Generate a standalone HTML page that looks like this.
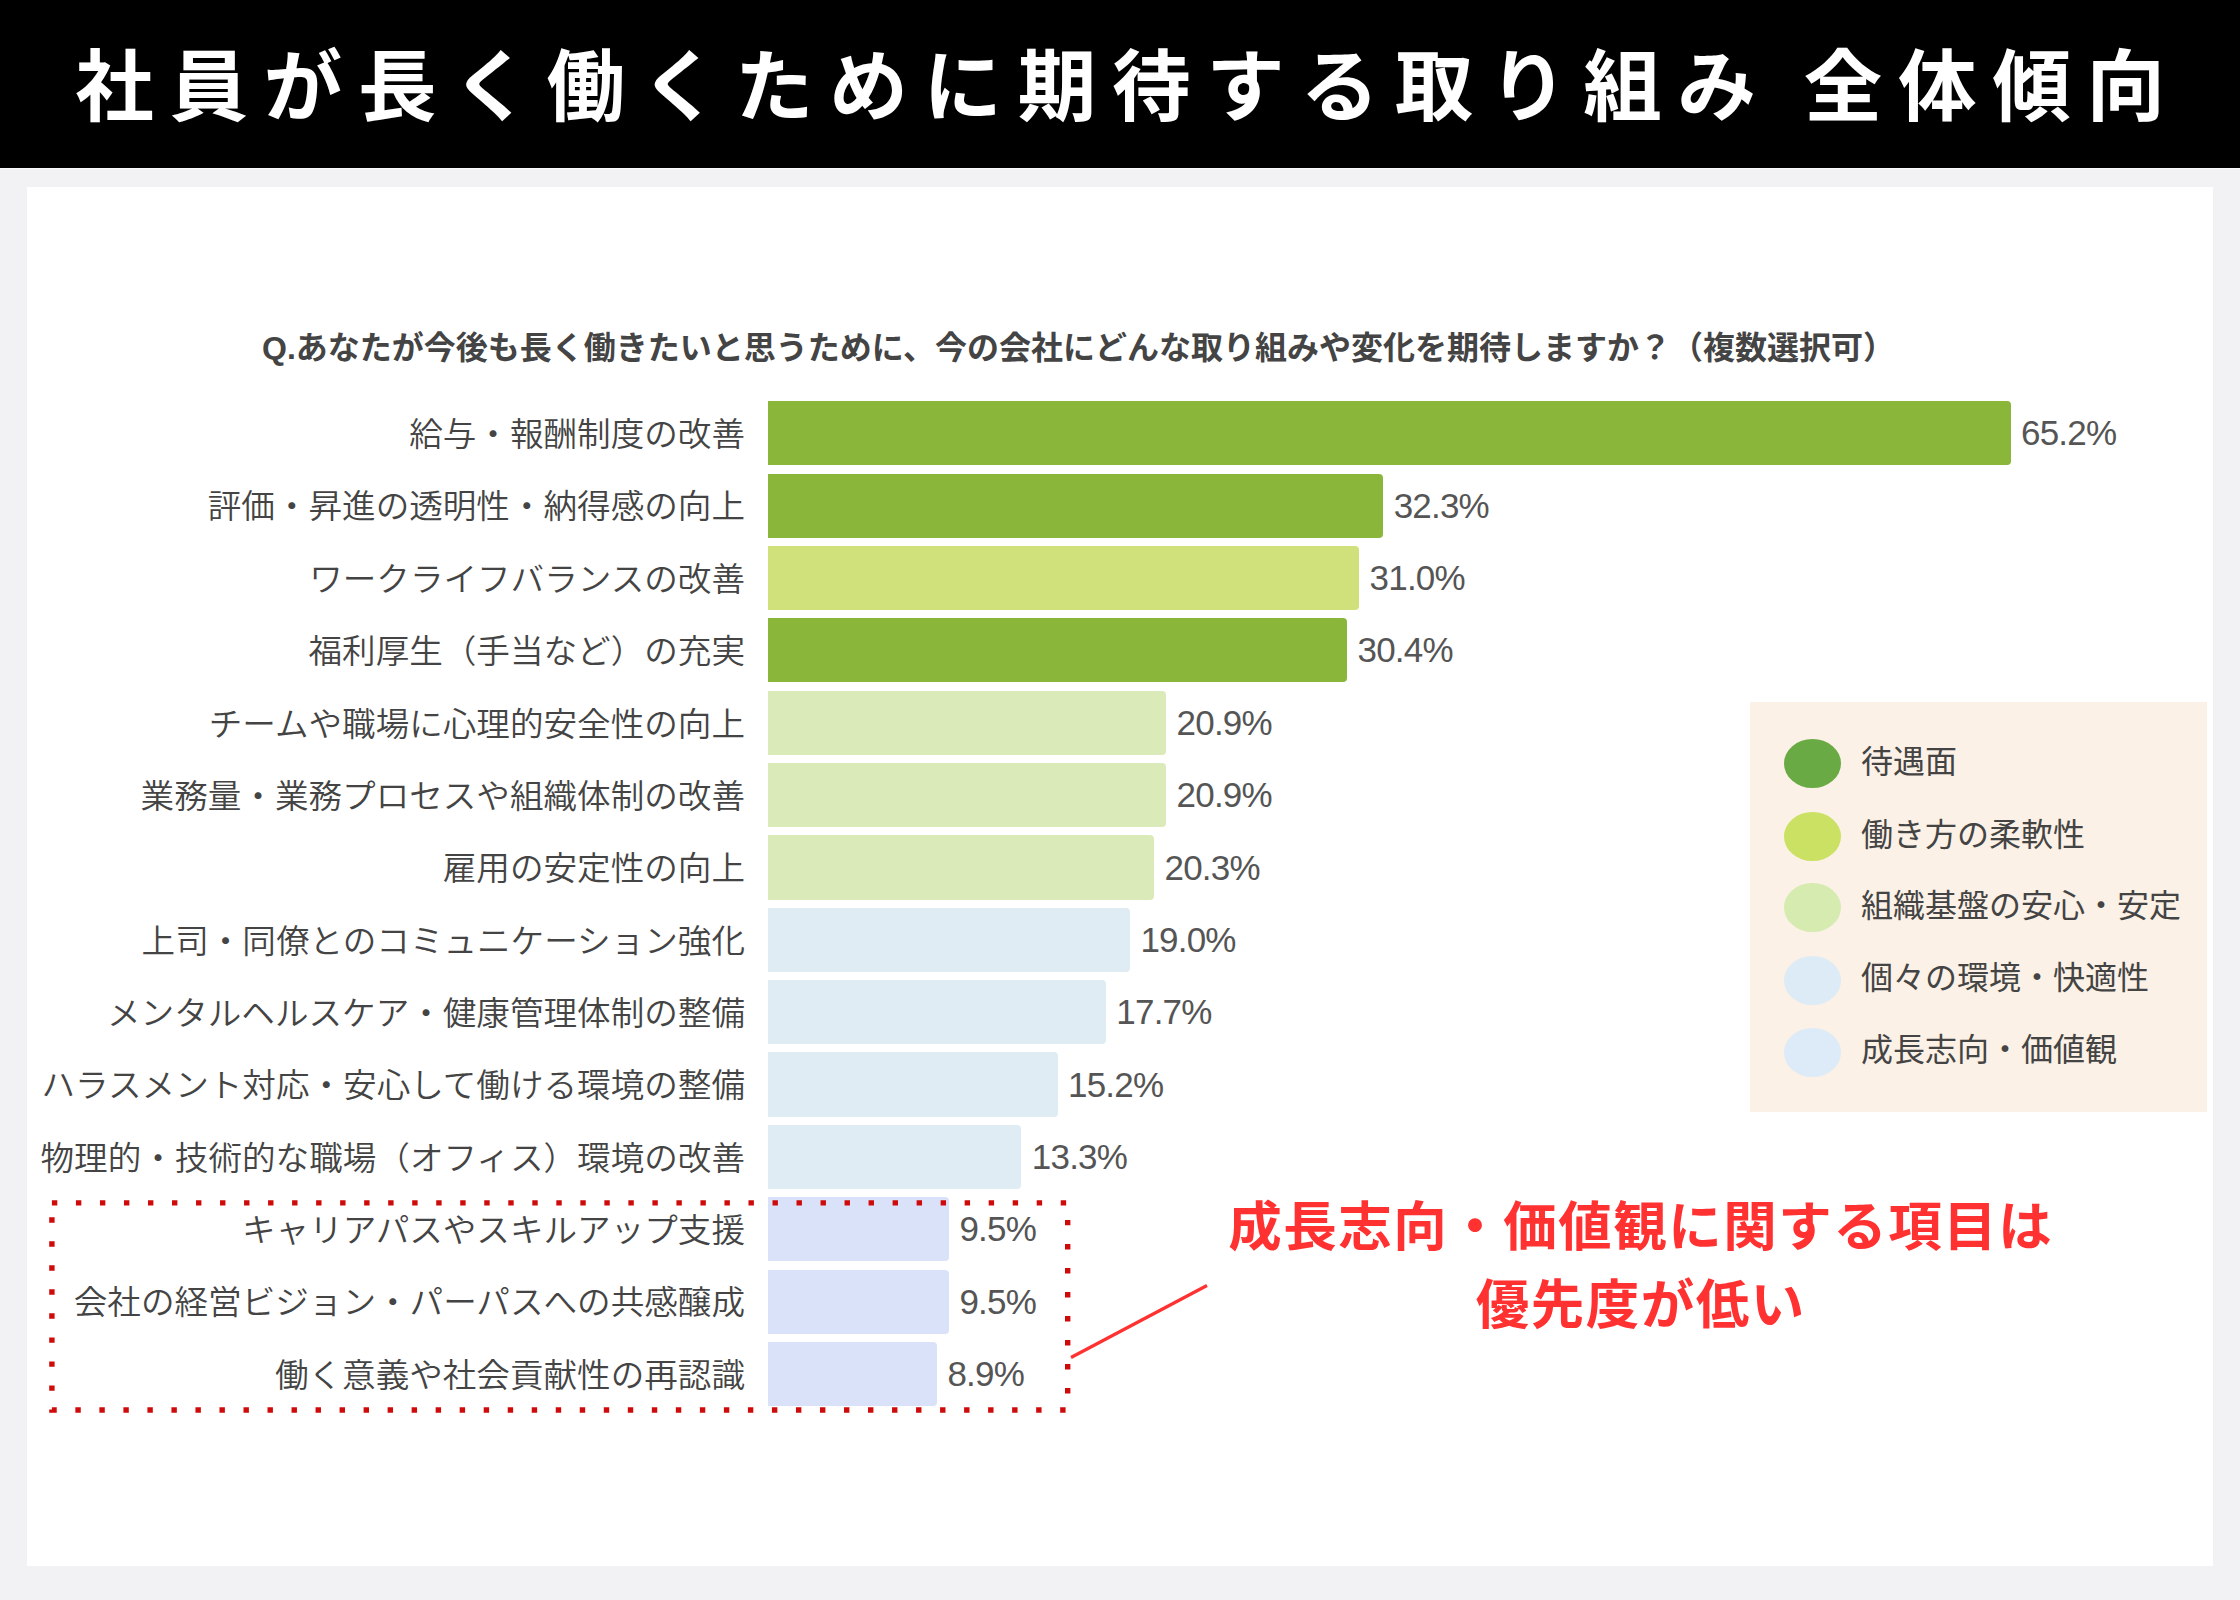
<!DOCTYPE html>
<html lang="ja">
<head>
<meta charset="utf-8">
<title>社員が長く働くために期待する取り組み 全体傾向</title>
<style>
*{margin:0;padding:0;box-sizing:border-box}
html,body{width:2240px;height:1600px;overflow:hidden;background:#f2f2f5}
body{position:relative;font-family:"Liberation Sans","Noto Sans CJK JP",sans-serif;color:#444}
.hdr{position:absolute;left:0;top:0;width:2240px;height:168px;background:#000}
.hdr h1{position:absolute;left:0;top:0;width:2240px;height:168px;line-height:168px;padding-top:4px;padding-left:16px;text-align:center;color:#fff;font-weight:700;font-size:78.5px;letter-spacing:15.75px;word-spacing:-5.5px;white-space:pre}
.hl{position:absolute;left:0;top:168px;width:2240px;height:1px;background:#fafafc}
.card{position:absolute;left:27px;top:187px;width:2186px;height:1379px;background:#fff}
.q{position:absolute;left:0;top:326px;width:2157px;text-align:center;font-weight:700;font-size:32px;line-height:44px;color:#444;white-space:nowrap}
.lb{position:absolute;right:1495px;height:64.3px;line-height:64.3px;font-size:33.6px;font-weight:350;white-space:nowrap;color:#444;text-align:right;transform:scaleY(0.968);transform-origin:center}
.bar{position:absolute;left:768px;height:64.3px;border-radius:0 4px 4px 0}
.v{position:absolute;height:64.3px;line-height:64.3px;font-size:35px;letter-spacing:-0.8px;white-space:nowrap;color:#555}
.c1{background:#8ab73a}.c2{background:#d0e17b}.c3{background:#dbeab9}.c4{background:#e0ecf3}.c5{background:#dae2f9}
.lg{position:absolute;left:1750px;top:702px;width:457px;height:410px;background:#fbf1e6}
.dot{position:absolute;left:34px;width:57px;height:49px;border-radius:50%}
.lt{position:absolute;left:111px;font-size:32px;line-height:48px;height:48px;white-space:nowrap;color:#444}
.note{position:absolute;left:1140px;top:1188.5px;width:1001.5px;text-align:center;color:#ff3131;font-weight:700;font-size:53.5px;letter-spacing:1.5px;line-height:78px;white-space:nowrap}
svg.ov{position:absolute;left:0;top:0;width:2240px;height:1600px;pointer-events:none}
</style>
</head>
<body>
<div class="hdr"><h1>社員が長く働くために期待する取り組み 全体傾向</h1></div>
<div class="hl"></div>
<div class="card"></div>
<div class="q">Q.あなたが今後も長く働きたいと思うために、今の会社にどんな取り組みや変化を期待しますか？（複数選択可）</div>
<div class="lb" style="top:403.0px">給与・報酬制度の改善</div>
<div class="bar c1" style="top:401.1px;width:1242.5px"></div>
<div class="v" style="top:401.3px;left:2021.0px">65.2%</div>
<div class="lb" style="top:475.4px">評価・昇進の透明性・納得感の向上</div>
<div class="bar c1" style="top:473.5px;width:615.2px"></div>
<div class="v" style="top:473.7px;left:1393.7px">32.3%</div>
<div class="lb" style="top:547.7px">ワークライフバランスの改善</div>
<div class="bar c2" style="top:545.8px;width:591.1px"></div>
<div class="v" style="top:546.0px;left:1369.6px">31.0%</div>
<div class="lb" style="top:620.1px">福利厚生（手当など）の充実</div>
<div class="bar c1" style="top:618.2px;width:579.0px"></div>
<div class="v" style="top:618.4px;left:1357.5px">30.4%</div>
<div class="lb" style="top:692.5px">チームや職場に心理的安全性の向上</div>
<div class="bar c3" style="top:690.6px;width:398.1px"></div>
<div class="v" style="top:690.8px;left:1176.6px">20.9%</div>
<div class="lb" style="top:764.9px">業務量・業務プロセスや組織体制の改善</div>
<div class="bar c3" style="top:763.0px;width:398.1px"></div>
<div class="v" style="top:763.2px;left:1176.6px">20.9%</div>
<div class="lb" style="top:837.2px">雇用の安定性の向上</div>
<div class="bar c3" style="top:835.3px;width:386.0px"></div>
<div class="v" style="top:835.5px;left:1164.5px">20.3%</div>
<div class="lb" style="top:909.6px">上司・同僚とのコミュニケーション強化</div>
<div class="bar c4" style="top:907.7px;width:361.9px"></div>
<div class="v" style="top:907.9px;left:1140.4px">19.0%</div>
<div class="lb" style="top:982.0px">メンタルヘルスケア・健康管理体制の整備</div>
<div class="bar c4" style="top:980.1px;width:337.8px"></div>
<div class="v" style="top:980.3px;left:1116.3px">17.7%</div>
<div class="lb" style="top:1054.3px">ハラスメント対応・安心して働ける環境の整備</div>
<div class="bar c4" style="top:1052.4px;width:289.5px"></div>
<div class="v" style="top:1052.6px;left:1068.0px">15.2%</div>
<div class="lb" style="top:1126.7px">物理的・技術的な職場（オフィス）環境の改善</div>
<div class="bar c4" style="top:1124.8px;width:253.3px"></div>
<div class="v" style="top:1125.0px;left:1031.8px">13.3%</div>
<div class="lb" style="top:1199.1px">キャリアパスやスキルアップ支援</div>
<div class="bar c5" style="top:1197.2px;width:180.9px"></div>
<div class="v" style="top:1197.4px;left:959.4px">9.5%</div>
<div class="lb" style="top:1271.4px">会社の経営ビジョン・パーパスへの共感醸成</div>
<div class="bar c5" style="top:1269.5px;width:180.9px"></div>
<div class="v" style="top:1269.7px;left:959.4px">9.5%</div>
<div class="lb" style="top:1343.8px">働く意義や社会貢献性の再認識</div>
<div class="bar c5" style="top:1341.9px;width:168.9px"></div>
<div class="v" style="top:1342.1px;left:947.4px">8.9%</div>
<div class="lg">
<div class="dot" style="top:37.1px;background:#6aaa45"></div><div class="lt" style="top:35.6px">待遇面</div>
<div class="dot" style="top:110.2px;background:#cbe163"></div><div class="lt" style="top:108.7px">働き方の柔軟性</div>
<div class="dot" style="top:181.2px;background:#d5ebb0"></div><div class="lt" style="top:179.7px">組織基盤の安心・安定</div>
<div class="dot" style="top:253.6px;background:#dcebf5"></div><div class="lt" style="top:252.1px">個々の環境・快適性</div>
<div class="dot" style="top:325.6px;background:#dcebf7"></div><div class="lt" style="top:324.1px">成長志向・価値観</div>
</div>
<div class="note">成長志向・価値観に関する項目は<br>優先度が低い</div>
<svg class="ov" viewBox="0 0 2240 1600">
<rect x="51.9" y="1202.9" width="1015.8" height="207.1" fill="none" stroke="#cf0a0a" stroke-width="5.4" stroke-dasharray="5.4 18.62"/>
<line x1="1071" y1="1357.5" x2="1207" y2="1285.5" stroke="#ff3131" stroke-width="3.2"/>
</svg>
</body>
</html>
